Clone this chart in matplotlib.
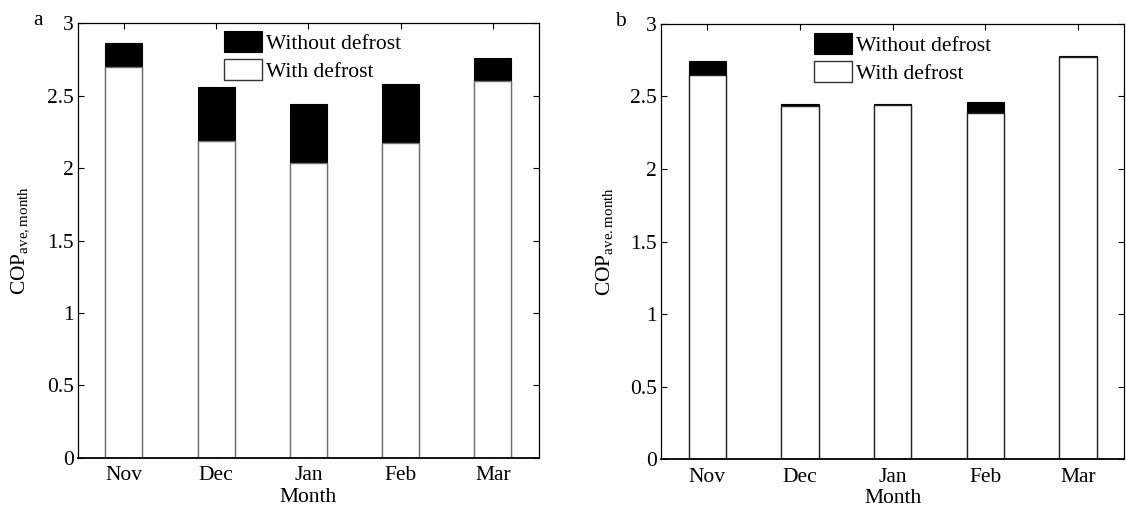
import matplotlib
matplotlib.use("Agg")
import matplotlib.pyplot as plt
import numpy as np

plt.rcParams['font.family'] = ['Liberation Serif', 'DejaVu Serif']
plt.rcParams['mathtext.fontset'] = 'custom'
plt.rcParams['mathtext.rm'] = 'Liberation Serif'
plt.rcParams['mathtext.it'] = 'Liberation Serif:italic'

months = ['Nov', 'Dec', 'Jan', 'Feb', 'Mar']
a_without = [2.866, 2.558, 2.443, 2.581, 2.758]
a_with = [2.696, 2.190, 2.038, 2.176, 2.604]
b_without = [2.745, 2.451, 2.449, 2.462, 2.782]
b_with = [2.646, 2.435, 2.442, 2.389, 2.775]
yticks = [0, 0.5, 1, 1.5, 2, 2.5, 3]
yticklabels = ['0', '0.5', '1', '1.5', '2', '2.5', '3']

FS = 15.5

fig = plt.figure(figsize=(11.26, 5.08), dpi=100)
ax_a = fig.add_axes([0.069, 0.099, 0.4097, 0.855])
ax_b = fig.add_axes([0.587, 0.096, 0.4115, 0.857])

panels = [
    (ax_a, a_without, a_with, 'a', r'COP$_{\mathrm{ave,month}}$', '#6e6e6e', (0.318, 0.982), -0.097),
    (ax_b, b_without, b_with, 'b', r'COP$_{\mathrm{ave.month}}$', '#222222', (0.331, 0.978), -0.099),
]

for ax, wo, wi, letter, ylab, ec, lpos, lx in panels:
    x = np.arange(1, len(months) + 1)
    h1 = ax.bar(x, wo, width=0.4, color='black', edgecolor='black', linewidth=0.8,
                label='Without defrost', zorder=2)
    h2 = ax.bar(x, wi, width=0.4, color='white', edgecolor=ec, linewidth=1.0,
                label='With defrost', zorder=3)
    ax.set_xlim(0.5, 5.5)
    ax.set_ylim(0, 3)
    ax.set_xticks(x)
    ax.set_xticklabels(months, fontsize=FS)
    ax.set_yticks(yticks)
    ax.set_yticklabels(yticklabels, fontsize=FS)
    ax.tick_params(direction='in', length=4, width=0.8, top=True, right=True, pad=3)
    ax.tick_params(axis='x', pad=6)
    for s in ax.spines.values():
        s.set_linewidth(0.9)
        s.set_zorder(5)
    ax.spines['bottom'].set_linewidth(1.3)
    ax.set_xlabel('Month', fontsize=FS, labelpad=2)
    ax.set_ylabel(ylab, fontsize=FS, labelpad=11)
    leg = ax.legend(handles=[h1, h2], loc='upper left', bbox_to_anchor=lpos,
                    frameon=False, fontsize=FS, handlelength=1.75, handleheight=1.1,
                    handletextpad=0.2, labelspacing=0.25, borderaxespad=0.0,
                    borderpad=0.0)
    leg.legend_handles[1].set_edgecolor('#333333')
    ax.text(lx, 0.996, letter, transform=ax.transAxes, fontsize=FS,
            ha='left', va='baseline')

fig.savefig('out.png', dpi=100)
